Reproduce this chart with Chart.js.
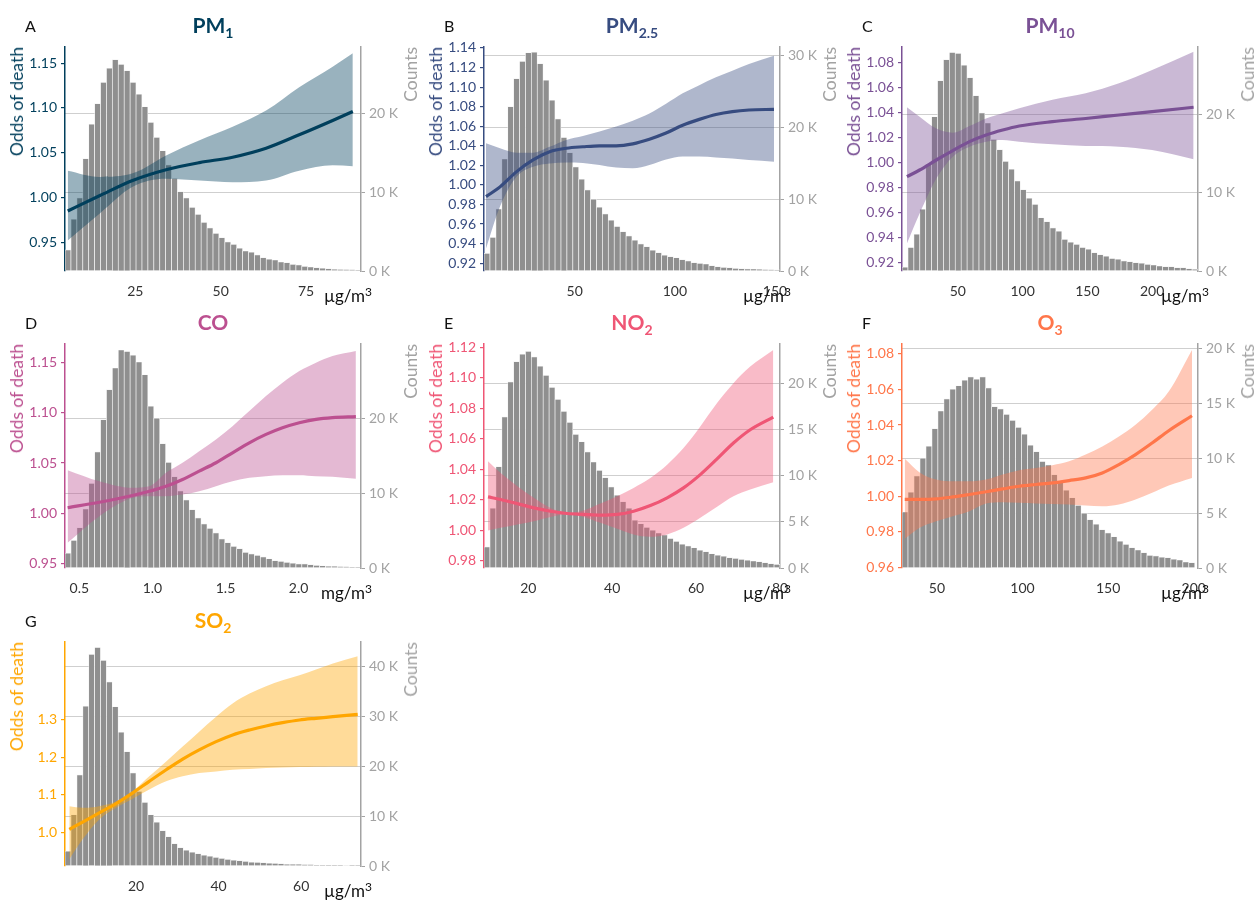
<!DOCTYPE html>
<html><head><meta charset="utf-8">
<script src="https://cdn.jsdelivr.net/npm/chart.js@4.4.1/dist/chart.umd.min.js"></script>
<style>
 body{margin:0;background:#fff;width:1257px;height:900px;position:relative;overflow:hidden;font-family:Lato,"DejaVu Sans",sans-serif;}
 canvas{position:absolute;}
 .lbl{position:absolute;white-space:nowrap;}
 .letter{font-size:16px;line-height:20px;color:#111;}
 .title{font-size:21px;line-height:24px;font-weight:700;transform:translateX(-50%);}
 .title sub{font-size:14px;vertical-align:-5px;line-height:0;}
 .vt{position:absolute;writing-mode:vertical-rl;transform:rotate(180deg);font-size:17.5px;line-height:18px;white-space:nowrap;}
 .unit{font-size:17px;line-height:20px;color:#111;transform:translateX(-100%);}
 .unit sup{font-size:12px;vertical-align:6px;line-height:0;}
</style></head><body>
<script>
// ================= DATA =================
// A: PM1
const pm1BinStart = 4.4, pm1BinWidth = 1.734;
const pm1Counts = [2700,6600,9300,14300,18700,21300,24000,25800,26900,26300,25500,24000,22500,20900,18900,17000,15300,13500,11800,10100,9300,8100,7200,6200,5500,4800,4250,3700,3400,2900,2550,2400,2050,1700,1500,1400,1150,1060,850,770,600,510,420,350,300,250,200,180,140,100];
const pm1X   = [5.2,14.5,24.2,34.0,43.8,53.5,63.3,73.0,82.8,88.7];
const pm1Fit = [0.985,1.002,1.019,1.031,1.039,1.045,1.055,1.070,1.086,1.096];
const pm1Hi  = [1.030,1.023,1.027,1.047,1.064,1.079,1.097,1.123,1.146,1.161];
const pm1Lo  = [0.952,0.982,1.012,1.021,1.019,1.017,1.019,1.030,1.036,1.035];
const pm1XTicks = [25,50,75];
const pm1OddsTicks = [0.95,1.00,1.05,1.10,1.15];
const pm1CountTicks = [0,10000,20000];

// B: PM2.5
const pm25BinStart = 4.7, pm25BinWidth = 2.956;
const pm25Counts = [2470,4700,8650,15600,22900,26800,29200,30400,30500,28900,26600,23800,21200,18600,16500,14500,12800,11300,10000,8900,7950,7100,6200,5500,4900,4300,3770,3400,2900,2550,2200,2000,1850,1600,1400,1160,1070,980,740,600,520,470,380,330,300,280,230,200,180,150];
const pm25X   = [5.7,12.7,21.0,29.2,37.5,45.8,54.1,62.4,70.7,79.0,87.3,95.6,103.9,112.2,120.5,128.7,137.0,149.5];
const pm25Fit = [0.988,0.998,1.0136,1.0255,1.034,1.0375,1.039,1.040,1.040,1.042,1.0467,1.053,1.061,1.067,1.072,1.075,1.0766,1.0773];
const pm25Hi  = [1.0426,1.0375,1.033,1.033,1.039,1.046,1.050,1.0545,1.0596,1.0657,1.073,1.083,1.0937,1.102,1.110,1.1168,1.1236,1.132];
const pm25Lo  = [0.935,0.978,1.0085,1.0187,1.022,1.023,1.0225,1.0204,1.0177,1.017,1.0204,1.026,1.029,1.029,1.028,1.027,1.0255,1.0238];
const pm25XTicks = [50,100,150];
const pm25OddsTicks = [0.92,0.94,0.96,0.98,1.00,1.02,1.04,1.06,1.08,1.10,1.12,1.14];
const pm25CountTicks = [0,10000,20000,30000];

// C: PM10
const pm10BinStart = 6.9, pm10BinWidth = 4.57;
const pm10Counts = [500,3000,4700,7900,13600,19700,24300,27000,27900,27800,26300,24700,22400,20200,18900,16800,15500,14000,13000,11500,10400,9300,8500,6800,6300,5500,5100,4050,3700,3400,3000,2800,2350,2100,1900,1600,1500,1300,1200,1070,1000,850,770,640,550,550,430,430,300,250];
const pm10X   = [10.7,20.5,33.4,46.1,59.0,71.8,84.6,97.4,123.1,148.7,174.4,200,232];
const pm10Fit = [0.9885,0.9938,1.0018,1.0093,1.0165,1.0218,1.0258,1.029,1.0325,1.035,1.0378,1.0405,1.044];
const pm10Hi  = [1.044,1.0365,1.027,1.0237,1.029,1.035,1.0392,1.0432,1.050,1.0552,1.0632,1.0738,1.0885];
const pm10Lo  = [0.935,0.959,0.987,1.0045,1.0125,1.0165,1.0178,1.0165,1.0144,1.013,1.0125,1.0098,1.0024];
const pm10XTicks = [50,100,150,200];
const pm10OddsTicks = [0.92,0.94,0.96,0.98,1.00,1.02,1.04,1.06,1.08];
const pm10CountTicks = [0,10000,20000];

// D: CO
const coBinStart = 0.402, coBinWidth = 0.0405;
const coCounts = [2000,3700,5400,7900,11300,15500,19800,23800,26700,29100,28900,28400,27500,25800,21600,20000,16600,14100,12200,10300,9100,7800,6700,5900,5300,4700,3900,3400,2900,2600,2100,1900,1700,1500,1240,1000,900,750,650,550,550,450,350,300,250,220,200,150,120,100];
const coX   = [0.42,0.637,0.864,0.979,1.093,1.206,1.32,1.435,1.548,1.663,1.777,1.89,2.005,2.119,2.232,2.392];
const coFit = [1.0057,1.0112,1.0179,1.022,1.027,1.0337,1.042,1.0503,1.0602,1.0701,1.0784,1.085,1.090,1.0933,1.095,1.096];
const coHi  = [1.043,1.032,1.0255,1.027,1.0404,1.0503,1.0618,1.0734,1.0866,1.1015,1.1164,1.1297,1.1412,1.1495,1.156,1.161];
const coLo  = [0.971,0.9973,1.0156,1.0172,1.0172,1.0188,1.0221,1.0271,1.032,1.0354,1.037,1.038,1.038,1.037,1.0364,1.0344];
const coXTicks = [0.5,1.0,1.5,2.0];
const coOddsTicks = [0.95,1.00,1.05,1.10,1.15];
const coCountTicks = [0,10000,20000];

// E: NO2
const no2BinStart = 9.44, no2BinWidth = 1.411;
const no2Counts = [2300,6500,11000,16400,20200,22400,23200,23500,22900,21900,20900,19600,18300,17000,15800,14500,13700,12600,11500,10600,9800,8800,7900,7200,6500,5200,4800,4400,4100,3800,3600,3200,2900,2600,2400,2200,1950,1770,1550,1400,1300,1120,1050,940,860,760,690,580,470,400];
const no2X   = [10.4,13.4,17.4,21.3,25.3,29.3,33.2,37.2,41.2,45.1,49.1,53.1,57.0,61.0,65.0,68.9,72.9,78.4];
const no2Fit = [1.022,1.0203,1.0176,1.0148,1.0126,1.0111,1.0105,1.010,1.0105,1.0126,1.0163,1.0214,1.0279,1.0366,1.0469,1.0573,1.066,1.0743];
const no2Hi  = [1.0453,1.0377,1.029,1.0214,1.0148,1.0116,1.0131,1.0176,1.0224,1.0279,1.0344,1.0431,1.054,1.0682,1.0835,1.0965,1.1074,1.1183];
const no2Lo  = [1.0,1.0017,1.0039,1.0061,1.0089,1.0105,1.0089,1.005,1.0011,0.9974,0.9959,0.9974,1.0017,1.0083,1.0155,1.0224,1.0268,1.0316];
const no2XTicks = [20,40,60,80];
const no2OddsTicks = [0.98,1.00,1.02,1.04,1.06,1.08,1.10,1.12];
const no2CountTicks = [0,5000,10000,15000,20000];

// F: O3
const o3BinStart = 29.6, o3BinWidth = 3.49;
const o3Counts = [5100,6900,8400,10000,11100,12700,14300,15400,16300,16600,17100,17400,17200,17400,16400,14700,14500,14000,13450,12800,12200,11200,10600,9700,9400,8500,7800,7100,6400,5700,5000,4400,4000,3500,3200,2850,2450,2150,1850,1640,1400,1150,1100,1000,950,800,730,550,490];
const o3X   = [31.2,39.9,49.6,59.3,69.0,78.7,88.4,98.1,107.8,117.5,127.2,136.9,146.6,156.3,166,175.7,185.4,199];
const o3Fit = [0.9982,0.9982,0.9985,0.9996,1.001,1.0025,1.0041,1.0056,1.0066,1.0075,1.0088,1.0103,1.0131,1.0178,1.0234,1.0299,1.0368,1.0452];
const o3Hi  = [1.021,1.0134,1.0094,1.0084,1.0084,1.0094,1.0122,1.0146,1.0159,1.0174,1.0196,1.0234,1.028,1.0336,1.0402,1.0486,1.0588,1.0822];
const o3Lo  = [0.9761,0.9823,0.986,0.9888,0.9916,0.9959,0.9966,0.9963,0.9959,0.9957,0.9954,0.9948,0.9944,0.9954,0.9982,1.0019,1.006,1.0103];
const o3XTicks = [50,100,150,200];
const o3OddsTicks = [0.96,0.98,1.00,1.02,1.04,1.06,1.08];
const o3CountTicks = [0,5000,10000,15000,20000];

// G: SO2
const so2BinStart = 2.79, so2BinWidth = 1.434;
const so2Counts = [3000,10300,18300,32100,42500,43900,41300,37000,32000,26900,23000,18700,15000,12800,10300,8800,7100,5900,4500,3700,3200,2800,2500,2200,2000,1730,1530,1330,1200,1070,930,800,730,670,600,530,470,400,330,330,270,270,200,200,150,130,120,100,80,70];
const so2X   = [3.83,7.06,11.1,15.2,19.2,23.2,27.3,31.3,35.3,39.4,43.4,47.5,51.5,55.5,59.6,63.6,67.7,73.7];
const so2Fit = [1.0085,1.0278,1.0526,1.0772,1.1055,1.1362,1.167,1.1955,1.22,1.242,1.2598,1.273,1.2836,1.2923,1.2995,1.304,1.3082,1.3145];
const so2Hi  = [1.070,1.0659,1.070,1.0833,1.1098,1.1495,1.1892,1.2288,1.2685,1.3082,1.3436,1.37,1.3894,1.4053,1.4185,1.4336,1.4495,1.4688];
const so2Lo  = [0.929,0.982,1.035,1.0659,1.0897,1.1143,1.1362,1.1495,1.1585,1.1627,1.167,1.169,1.1717,1.173,1.1743,1.175,1.176,1.176];
const so2XTicks = [20,40,60];
const so2OddsTicks = [1.0,1.1,1.2,1.3];
const so2CountTicks = [0,10000,20000,30000,40000];

// ================= LAYOUT / STYLE =================
const COL_LEFT = [65, 484, 902], ROW_TOP = [47, 344, 642];
const PW = 296, PH = 224, PAD_L = 65, PAD_R = 50, PAD_T = 14, PAD_B = 30;
const GRAY = '#a3a3a3';
Chart.defaults.font.family = 'Lato, "DejaVu Sans", sans-serif';

const PANELS = [
  {letter:'A', title:'PM<sub>1</sub>', unit:'µg/m<sup>3</sup>', color:'#003f5c', col:0,row:0,
   binStart:pm1BinStart, binWidth:pm1BinWidth, counts:pm1Counts, xs:pm1X, fit:pm1Fit, hi:pm1Hi, lo:pm1Lo,
   xTicks:pm1XTicks, oddsTicks:pm1OddsTicks, countTicks:pm1CountTicks, xMin:4.4, xMax:91.1, yMin:0.918, yMax:1.168, cMax:28500, dec:2, xDec:0},
  {letter:'B', title:'PM<sub>2.5</sub>', unit:'µg/m<sup>3</sup>', color:'#374c80', col:1,row:0,
   binStart:pm25BinStart, binWidth:pm25BinWidth, counts:pm25Counts, xs:pm25X, fit:pm25Fit, hi:pm25Hi, lo:pm25Lo,
   xTicks:pm25XTicks, oddsTicks:pm25OddsTicks, countTicks:pm25CountTicks, xMin:4.7, xMax:152.5, yMin:0.912, yMax:1.141, cMax:31200, dec:2, xDec:0},
  {letter:'C', title:'PM<sub>10</sub>', unit:'µg/m<sup>3</sup>', color:'#7a5195', col:2,row:0,
   binStart:pm10BinStart, binWidth:pm10BinWidth, counts:pm10Counts, xs:pm10X, fit:pm10Fit, hi:pm10Hi, lo:pm10Lo,
   xTicks:pm10XTicks, oddsTicks:pm10OddsTicks, countTicks:pm10CountTicks, xMin:6.9, xMax:235.4, yMin:0.913, yMax:1.0922, cMax:28600, dec:2, xDec:0},
  {letter:'D', title:'CO', unit:'mg/m<sup>3</sup>', color:'#bc5090', col:0,row:1,
   binStart:coBinStart, binWidth:coBinWidth, counts:coCounts, xs:coX, fit:coFit, hi:coHi, lo:coLo,
   xTicks:coXTicks, oddsTicks:coOddsTicks, countTicks:coCountTicks, xMin:0.402, xMax:2.427, yMin:0.946, yMax:1.168, cMax:29900, dec:2, xDec:1},
  {letter:'E', title:'NO<sub>2</sub>', unit:'µg/m<sup>3</sup>', color:'#ef5675', col:1,row:1,
   binStart:no2BinStart, binWidth:no2BinWidth, counts:no2Counts, xs:no2X, fit:no2Fit, hi:no2Hi, lo:no2Lo,
   xTicks:no2XTicks, oddsTicks:no2OddsTicks, countTicks:no2CountTicks, xMin:9.44, xMax:80, yMin:0.9754, yMax:1.1222, cMax:24300, dec:2, xDec:0},
  {letter:'F', title:'O<sub>3</sub>', unit:'µg/m<sup>3</sup>', color:'#ff764a', col:2,row:1,
   binStart:o3BinStart, binWidth:o3BinWidth, counts:o3Counts, xs:o3X, fit:o3Fit, hi:o3Hi, lo:o3Lo,
   xTicks:o3XTicks, oddsTicks:o3OddsTicks, countTicks:o3CountTicks, xMin:29.6, xMax:202.5, yMin:0.9597, yMax:1.0855, cMax:20400, dec:2, xDec:0},
  {letter:'G', title:'SO<sub>2</sub>', unit:'µg/m<sup>3</sup>', color:'#ffa600', col:0,row:2,
   binStart:so2BinStart, binWidth:so2BinWidth, counts:so2Counts, xs:so2X, fit:so2Fit, hi:so2Hi, lo:so2Lo,
   xTicks:so2XTicks, oddsTicks:so2OddsTicks, countTicks:so2CountTicks, xMin:2.79, xMax:74.5, yMin:0.911, yMax:1.507, cMax:45000, dec:1, xDec:0}
];

function hexA(hex, a){
  const n = parseInt(hex.slice(1),16);
  return 'rgba(' + ((n>>16)&255) + ',' + ((n>>8)&255) + ',' + (n&255) + ',' + a + ')';
}
function addLabel(cls, html, left, top, color){
  const d = document.createElement('div');
  d.className = 'lbl ' + cls; d.innerHTML = html;
  d.style.left = left + 'px'; d.style.top = top + 'px';
  if (color) d.style.color = color;
  document.body.appendChild(d);
  return d;
}
function addVert(text, cx, top, color){
  const d = document.createElement('div');
  d.className = 'vt'; d.textContent = text;
  d.style.left = (cx - 9) + 'px'; d.style.top = top + 'px'; d.style.color = color;
  document.body.appendChild(d);
}

function makePanel(p){
  const cl = COL_LEFT[p.col], ct = ROW_TOP[p.row], cr = cl + PW, cb = ct + PH;
  const cw = PAD_L + PW + PAD_R, ch = PAD_T + PH + PAD_B;
  const cv = document.createElement('canvas');
  cv.width = cw; cv.height = ch;
  cv.style.left = (cl - PAD_L) + 'px'; cv.style.top = (ct - PAD_T) + 'px';
  cv.style.width = cw + 'px'; cv.style.height = ch + 'px';
  document.body.appendChild(cv);

  const bars = p.counts.map((c,i) => ({x: p.binStart + (i + 0.5) * p.binWidth, y: c}));
  const pts = arr => p.xs.map((x,i) => ({x: x, y: arr[i]}));
  const lineCommon = {type:'line', pointRadius:0, pointHoverRadius:0, cubicInterpolationMode:'monotone', yAxisID:'y', xAxisID:'x'};

  new Chart(cv, {
    type:'bar',
    data:{datasets:[
      Object.assign({}, lineCommon, {data:pts(p.fit), borderColor:p.color, borderWidth:3.2, fill:false, order:1}),
      Object.assign({}, lineCommon, {data:pts(p.hi), borderColor:'rgba(0,0,0,0)', borderWidth:0, fill:'+1', backgroundColor:hexA(p.color,0.4), order:2}),
      Object.assign({}, lineCommon, {data:pts(p.lo), borderColor:'rgba(0,0,0,0)', borderWidth:0, fill:false, order:2}),
      {type:'bar', data:bars, xAxisID:'x', yAxisID:'y2', backgroundColor:'#8f8f8f', borderColor:'#f2f2f2', borderWidth:0.7,
       barPercentage:1, categoryPercentage:1, order:3}
    ]},
    options:{
      responsive:false, animation:false, devicePixelRatio:1,
      layout:{padding:{top:PAD_T, left:0, right:0, bottom:0}},
      plugins:{legend:{display:false}, tooltip:{enabled:false}},
      events:[],
      scales:{
        x:{type:'linear', min:p.xMin, max:p.xMax, offset:false,
           grid:{display:false}, border:{display:false},
           afterBuildTicks: s => { s.ticks = p.xTicks.map(v => ({value:v})); },
           ticks:{autoSkip:false, maxRotation:0, padding:4, color:'#333', font:{size:14},
                  callback: v => Number(v).toFixed(p.xDec)},
           afterFit: s => { s.height = PAD_B; }},
        y:{type:'linear', position:'left', min:p.yMin, max:p.yMax,
           afterBuildTicks: s => { s.ticks = p.oddsTicks.map(v => ({value:v})); },
           ticks:{color:p.color, font:{size:14}, padding:4, callback: v => Number(v).toFixed(p.dec)},
           grid:{drawOnChartArea:false, drawTicks:true, tickLength:4, color:p.color, tickColor:p.color, lineWidth:1.2},
           border:{display:true, color:p.color, width:1.5},
           afterFit: s => { s.width = PAD_L; }},
        y2:{type:'linear', position:'right', min:0, max:p.cMax,
           afterBuildTicks: s => { s.ticks = p.countTicks.map(v => ({value:v})); },
           ticks:{color:GRAY, font:{size:14}, padding:4, callback: v => (v/1000) + ' K'},
           grid:{drawOnChartArea:true, drawTicks:true, tickLength:4, lineWidth:1,
                 color: c => (c.tick && c.tick.value === 0) ? 'rgba(0,0,0,0)' : '#cfcfcf', tickColor:GRAY},
           border:{display:true, color:GRAY, width:1.5},
           afterFit: s => { s.width = PAD_R; }}
      }
    }
  });

  addLabel('letter', p.letter, cl - 40, ct - 31);
  addLabel('title', p.title, (cl + cr) / 2, ct - 34, p.color);
  addVert('Odds of death', cl - 48, ct, p.color);
  addVert('Counts', cr + 50, ct, GRAY);
  addLabel('unit', p.unit, cr + 11, cb + 15);
}

PANELS.forEach(makePanel);
</script>
</body></html>
